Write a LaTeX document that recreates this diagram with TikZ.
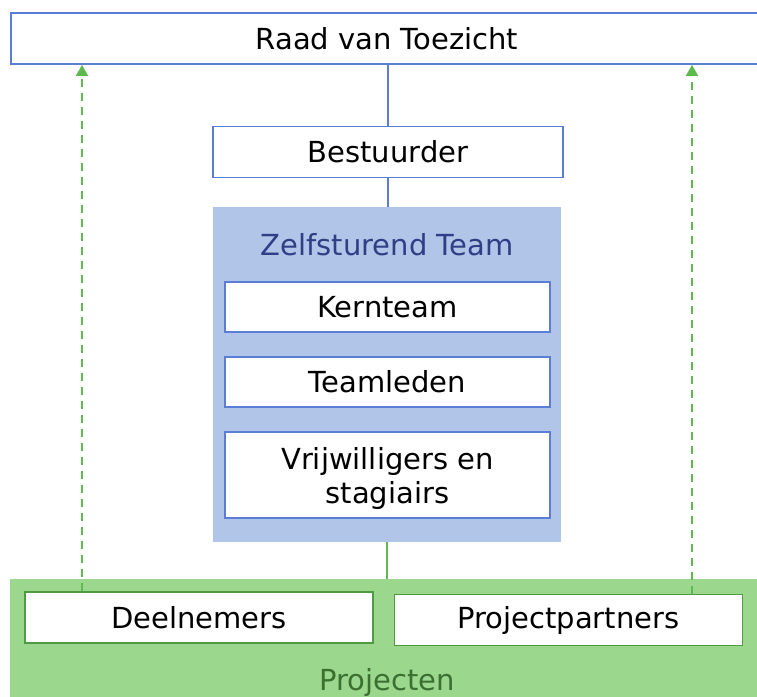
\documentclass[tikz,border=0pt]{standalone}
\usepackage{fontspec}
\setmainfont{DejaVu Sans}
\usetikzlibrary{arrows.meta}
\definecolor{bborder}{HTML}{5A7DD6}
\definecolor{bfill}{HTML}{B0C5E8}
\definecolor{btext}{HTML}{2E3F85}
\definecolor{gfill}{HTML}{9CD78E}
\definecolor{gborder}{HTML}{4F9A42}
\definecolor{gline}{HTML}{5DB950}
\definecolor{gtext}{HTML}{3B7030}
\tikzset{
  bigfont/.style={font=\fontsize{29}{34}\selectfont},
  bluebox/.style={draw=bborder, line width=1.7pt, fill=white, minimum width=#1, bigfont, align=center, inner sep=0pt},
  greenbox/.style={draw=gborder, line width=1.7pt, fill=white, minimum width=348pt, minimum height=51pt, bigfont, inner sep=0pt},
  bline/.style={draw=bborder, line width=1.5pt},
  gsolid/.style={draw=gline, line width=1.5pt},
  garrow/.style={draw=gline, line width=1.5pt, dash pattern=on 8pt off 6pt, -{Triangle[length=11pt,width=12pt]}},
}
\begin{document}
\begin{tikzpicture}[x=1pt,y=-1pt]
\useasboundingbox (0,0) rectangle (757,696);
\clip (0,0) rectangle (757,696);
% Projecten background
\node[fill=gfill, minimum width=754pt, minimum height=141pt, inner sep=0pt] (proj) at (387,649.5) {};
\node[bigfont, text=gtext] (projlabel) at (387,682) {Projecten};
% Raad
\node[bluebox=752pt, minimum height=51pt] (raad) at (387,38.5) {Raad van Toezicht};
% Bestuurder
\node[bluebox=350pt, minimum height=51pt] (best) at (388,152) {Bestuurder};
% Zelfsturend team
\node[fill=bfill, minimum width=348pt, minimum height=335pt, inner sep=0pt] (zelf) at (387,374.5) {};
\node[bigfont, text=btext] (zelflabel) at (387,245) {Zelfsturend Team};
\node[bluebox=325pt, minimum height=50pt] (kern) at (387.5,307) {Kernteam};
\node[bluebox=325pt, minimum height=50pt] (leden) at (387.5,382) {Teamleden};
\node[bluebox=325pt, minimum height=86pt, text depth=0pt] (vrij) at (387.5,475) {Vrijwilligers en\\stagiairs};
% Projecten boxes
\node[greenbox] (deel) at (199,617.5) {Deelnemers};
\node[greenbox] (partners) at (568.5,620) {Projectpartners};
% connectors
\draw[bline] (raad.south -| best.north) -- (best.north);
\draw[bline] (best.south) -- (best.south |- zelf.north);
\draw[gsolid] (zelf.south) -- (zelf.south |- proj.north);
\coordinate (la) at (82,0);
\coordinate (ra) at (692,0);
\draw[garrow] (la |- deel.north) -- (la |- raad.south);
\draw[garrow] (ra |- partners.north) -- (ra |- raad.south);
\end{tikzpicture}
\end{document}
